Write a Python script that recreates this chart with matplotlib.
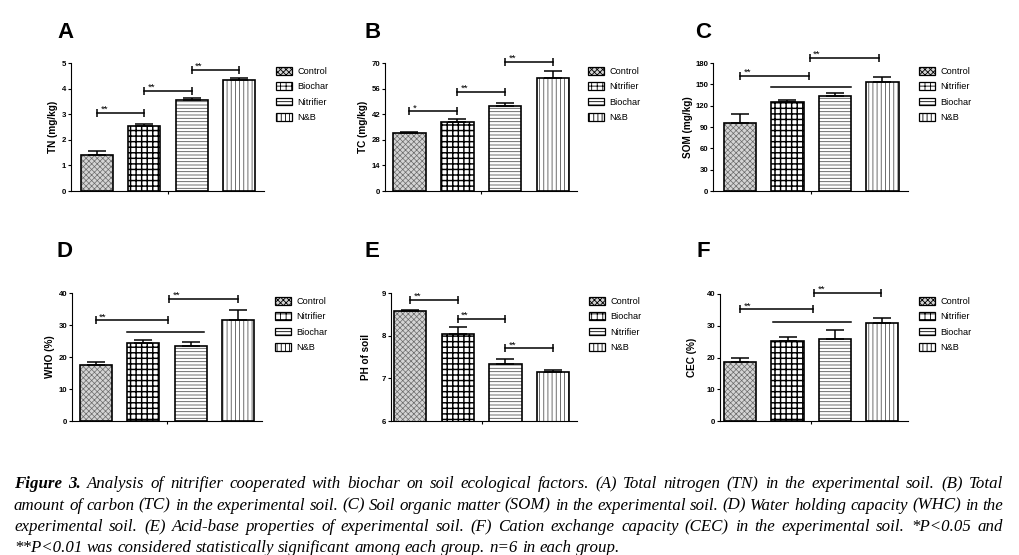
import numpy as np
import matplotlib
matplotlib.use('Agg')
import matplotlib.pyplot as plt
from matplotlib.patches import Patch

plt.rcParams['font.family'] = 'Liberation Sans'
plt.rcParams['hatch.linewidth'] = 0.6

W, H = 1019, 555

# ---- data ----
# A: total nitrogen
tn_labels = ['Control', 'Biochar', 'Nitrifier', 'N&B']
tn_mean = [1.41, 2.54, 3.55, 4.33]
tn_err = [0.16, 0.08, 0.08, 0.08]
tn_sig = [(0, 1, 3.05, '**'), (1, 2, 3.92, '**'), (2, 3, 4.73, '**')]

# B: total carbon
tc_labels = ['Control', 'Nitrifier', 'Biochar', 'N&B']
tc_mean = [31.5, 37.9, 46.6, 61.6]
tc_err = [0.8, 1.4, 1.5, 4.0]
tc_sig = [(0, 1, 43.5, '*'), (1, 2, 54.3, '**'), (2, 3, 70.7, '**')]

# C: soil organic matter
som_labels = ['Control', 'Nitrifier', 'Biochar', 'N&B']
som_mean = [95.0, 125.6, 133.6, 153.7]
som_err = [12.6, 1.9, 4.7, 7.1]
som_sig = [(0, 1.45, 162, '**'), (1.47, 2.93, 187.5, '**')]
som_line = (0.66, 2.34, 146.7)

# D: water holding capacity
whc_labels = ['Control', 'Nitrifier', 'Biochar', 'N&B']
whc_mean = [17.5, 24.3, 23.5, 31.7]
whc_err = [0.9, 0.9, 1.1, 2.9]
whc_sig = [(0, 1.53, 31.5, '**'), (1.55, 3.0, 38.2, '**')]
whc_line = (0.66, 2.28, 27.9)

# E: soil pH
ph_labels = ['Control', 'Biochar', 'Nitrifier', 'N&B']
ph_mean = [8.58, 8.03, 7.33, 7.15]
ph_err = [0.02, 0.18, 0.12, 0.04]
ph_sig = [(0, 1, 8.84, '**'), (1, 2, 8.39, '**'), (2, 3, 7.70, '**')]

# F: cation exchange capacity
cec_labels = ['Control', 'Nitrifier', 'Biochar', 'N&B']
cec_mean = [18.6, 25.1, 25.7, 30.9]
cec_err = [1.3, 1.5, 2.9, 1.5]
cec_sig = [(0, 1.53, 35.2, '**'), (1.56, 2.98, 40.4, '**')]
cec_line = (0.69, 2.34, 31.1)

caption = [
    'Figure 3. Analysis of nitrifier cooperated with biochar on soil ecological factors. (A) Total nitrogen (TN) in the experimental soil. (B) Total',
    'amount of carbon (TC) in the experimental soil. (C) Soil organic matter (SOM) in the experimental soil. (D) Water holding capacity (WHC) in the',
    'experimental soil. (E) Acid-base properties of experimental soil. (F) Cation exchange capacity (CEC) in the experimental soil. *P<0.05 and',
    '**P<0.01 was considered statistically significant among each group. n=6 in each group.',
]

# ---- styles ----
hatches = ['xxxxxx', '+++', '-----', '||||']
face_cols = ['#d4d4d4', 'white', 'white', 'white']
hatch_cols = ['#6a6a6a', 'black', '#555555', '#555555']
hatch_lws = [0.5, 1.05, 0.6, 0.6]

fig = plt.figure(figsize=(W / 100, H / 100), dpi=100)


def set_hlw(p, lw):
    if hasattr(p, 'set_hatch_linewidth'):
        p.set_hatch_linewidth(lw)


def panel(letter, box, xlim, letter_pos, ylab, ylab_x, labels, mean, err,
          yticks, sig, leg_pos, line=None):
    l, r, t, b = box
    ax = fig.add_axes([l / W, 1 - b / H, (r - l) / W, (b - t) / H])
    x = np.arange(len(mean))
    for i in range(len(mean)):
        bars = ax.bar(x[i], mean[i], width=0.68, color=face_cols[i], edgecolor=hatch_cols[i],
                      hatch=hatches[i], linewidth=0)
        for p in bars:
            set_hlw(p, hatch_lws[i])
        ax.bar(x[i], mean[i], width=0.68, fill=False, edgecolor='black', linewidth=1.2)
    ax.errorbar(x, mean, yerr=[np.zeros(len(err)), err], fmt='none', ecolor='black',
                elinewidth=1.1, capsize=6.3, capthick=1.1)
    for x1, x2, y, s in sig:
        ax.plot([x1, x2], [y, y], color='black', lw=1.1, marker='|', ms=6, mew=1.1,
                clip_on=False)
        ax.annotate(s, xy=(x1, y), xytext=(2.5, -0.8), textcoords='offset points',
                    ha='left', va='bottom', fontsize=6.8, annotation_clip=False)
    if line is not None:
        ax.plot([line[0], line[1]], [line[2], line[2]], color='black', lw=1.1, clip_on=False)
    ax.set_xlim(*xlim)
    ax.set_ylim(yticks[0], yticks[-1])
    ax.set_yticks(yticks)
    ax.set_xticks([1.5])
    ax.set_xticklabels([''])
    ax.tick_params(axis='both', direction='out', length=2.5, width=0.8, labelsize=5.6, pad=1)
    for lbl in ax.get_yticklabels():
        lbl.set_fontweight('bold')
    for s in ['top', 'right']:
        ax.spines[s].set_visible(False)
    for s in ['left', 'bottom']:
        ax.spines[s].set_linewidth(0.8)
    ax.set_ylabel(ylab, fontsize=7.2, fontweight='bold')
    ax.yaxis.set_label_coords((ylab_x - l) / (r - l), 0.5)
    handles = []
    for h, fc, hl in zip(hatches, face_cols, hatch_lws):
        hp = Patch(facecolor=fc, edgecolor='black', hatch=h, linewidth=0.9)
        set_hlw(hp, hl)
        handles.append(hp)
    ax.legend(handles, labels, loc='upper left', frameon=False,
              bbox_to_anchor=(leg_pos[0] / W, 1 - leg_pos[1] / H),
              bbox_transform=fig.transFigure, fontsize=6.6, handlelength=1.75,
              handleheight=0.9, handletextpad=0.6, labelspacing=0.7,
              borderpad=0, borderaxespad=0)
    fig.text(letter_pos[0] / W, 1 - letter_pos[1] / H, letter, fontsize=16,
             fontweight='bold', va='baseline')
    return ax


panel('A', (71, 264, 63, 191), (-0.55, 3.53), (57, 38), 'TN (mg/kg)', 58,
      tn_labels, tn_mean, tn_err, [0, 1, 2, 3, 4, 5], tn_sig, (276, 67))
panel('B', (385, 577, 63, 191), (-0.51, 3.5), (364, 38), 'TC (mg/kg)', 368,
      tc_labels, tc_mean, tc_err, [0, 14, 28, 42, 56, 70], tc_sig, (588, 67))
panel('C', (713, 908, 63, 191), (-0.57, 3.54), (695, 38), 'SOM (mg/kg)', 693,
      som_labels, som_mean, som_err, [0, 30, 60, 90, 120, 150, 180], som_sig, (919, 67),
      line=som_line)
panel('D', (72, 262, 293, 421), (-0.5, 3.5), (57, 257), 'WHO (%)', 55,
      whc_labels, whc_mean, whc_err, [0, 10, 20, 30, 40], whc_sig, (275, 297),
      line=whc_line)
panel('E', (391, 577, 293, 421), (-0.4, 3.5), (364, 257), 'PH of soil', 371,
      ph_labels, ph_mean, ph_err, [6, 7, 8, 9], ph_sig, (589, 297))
panel('F', (720, 908, 294, 421), (-0.43, 3.55), (697, 257), 'CEC (%)', 697,
      cec_labels, cec_mean, cec_err, [0, 10, 20, 30, 40], cec_sig, (919, 297),
      line=cec_line)

# caption, justified by hand
fig.canvas.draw()
rend = fig.canvas.get_renderer()
cap_fs = 12.2
baselines = [488, 509.5, 531, 552]
for i, text in enumerate(caption):
    words = text.split(' ')
    ts = []
    for j, w in enumerate(words):
        wt = 'bold' if (i == 0 and j < 2) else 'normal'
        ts.append(fig.text(0, 0, w, fontsize=cap_fs, family='Liberation Serif',
                           style='italic', weight=wt, va='baseline'))
    widths = [t.get_window_extent(rend).width for t in ts]
    if i < 3:
        gap = (989 - sum(widths)) / (len(words) - 1)
    else:
        gap = cap_fs * 100 / 72 * 0.25
    xp = 14
    for t, w in zip(ts, widths):
        t.set_position((xp / W, 1 - baselines[i] / H))
        xp += w + gap

fig.savefig('out.png', dpi=100)
